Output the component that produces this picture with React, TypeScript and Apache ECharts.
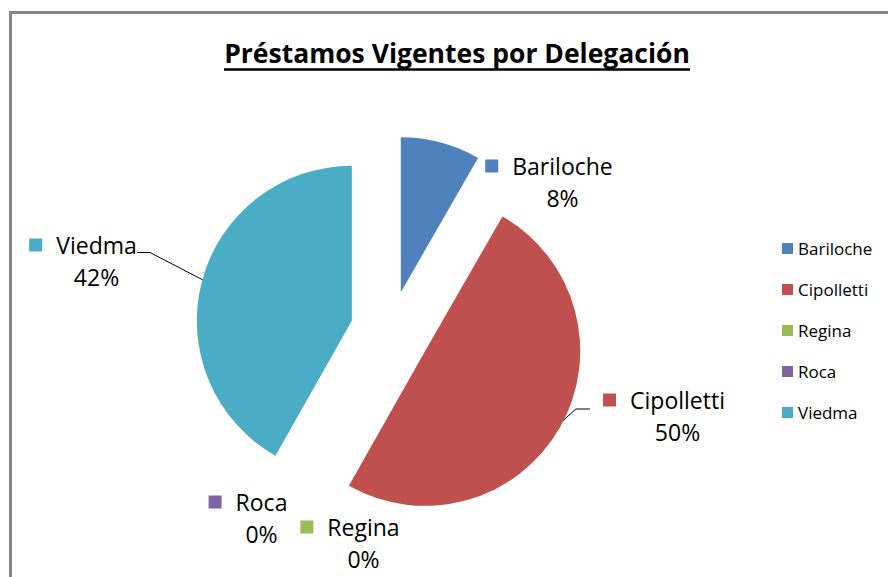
import React, { useEffect, useRef } from "react";
import * as echarts from "echarts";

const categories = ["Bariloche", "Cipolletti", "Regina", "Roca", "Viedma"];
const values = [8.3, 49.9, 0, 0, 41.8];
const colors = ["#4F81BD", "#C0504D", "#9BBB59", "#8064A2", "#4BACC6"];
const titleText = "Préstamos Vigentes por Delegación";

export default function App() {
  const ref = useRef<HTMLDivElement>(null);

  useEffect(() => {
    if (!ref.current) return;
    const chart = echarts.init(ref.current, null, { renderer: "svg" });

    const font = "'Open Sans', 'Noto Sans', sans-serif";
    const cx = 390.5;
    const cy = 331;
    const explode = 40;
    const radius = 155;

    // label layout (centre of block)
    const labelLayoutMap: Record<string, any> = {
      Bariloche: { x: 549, y: 182, line: null },
      Cipolletti: { x: 664, y: 416, line: [[558, 425], [576, 409], [590, 409]] },
      Regina: { x: 350, y: 543, line: null },
      Roca: { x: 248, y: 518, line: null },
      Viedma: { x: 83, y: 261, line: [[203, 280], [150, 252.5], [137, 252.5]] },
    };

    const total = values.reduce((a, b) => a + b, 0);
    let acc = 0;
    const mids = values.map((v) => {
      const m = ((acc + v / 2) / total) * 2 * Math.PI;
      acc += v;
      return m;
    });

    const series = categories.map((cat, si) => ({
      type: "pie",
      name: cat,
      silent: true,
      center: [cx + explode * Math.sin(mids[si]), cy - explode * Math.cos(mids[si])],
      radius,
      startAngle: 90,
      clockwise: true,
      percentPrecision: 0,
      avoidLabelOverlap: false,
      emphasis: { disabled: true },
      labelLine: { show: false, lineStyle: { color: "#000", width: 1 } },
      labelLayout: (params: any) => {
        const L = labelLayoutMap[categories[params.dataIndex]];
        const res: any = { x: L.x, y: L.y, align: "center", verticalAlign: "middle" };
        if (L.line) res.labelLinePoints = L.line;
        return res;
      },
      data: categories.map((name, i) => ({
        name,
        value: values[i],
        itemStyle: { color: i === si ? colors[i] : "rgba(0,0,0,0)" },
        labelLine: { show: i === si && !!labelLayoutMap[name].line },
        label: {
          show: i === si,
          position: "outside",
          formatter: (p: any) => `{sq|}{gap|}{name|${p.name}}\n{sp|}{pct|${p.percent}%}`,
          rich: {
            sq: { width: 13, height: 13, backgroundColor: colors[i] },
            gap: { width: 14 },
            name: { fontSize: 23, fontFamily: font, color: "#000", lineHeight: 32 },
            sp: { width: 27, align: "center" },
            pct: { fontSize: 23, fontFamily: font, color: "#000", lineHeight: 32, align: "center" },
          },
        },
      })),
    }));

    chart.setOption({
      animation: false,
      backgroundColor: "#fff",
      graphic: [
        {
          type: "rect",
          shape: { x: 10.5, y: 12.5, width: 1000, height: 1000 },
          style: { fill: "none", stroke: "#878787", lineWidth: 3 },
          silent: true,
        },
        {
          type: "text",
          x: 457,
          y: 53,
          style: {
            text: titleText,
            fontSize: 26.5,
            fontWeight: "bold",
            fontFamily: font,
            fill: "#000",
            align: "center",
            verticalAlign: "middle",
          },
        },
        {
          type: "line",
          shape: { x1: 224, y1: 69.5, x2: 690, y2: 69.5 },
          style: { stroke: "#000", lineWidth: 2.5 },
        },
      ],
      legend: {
        orient: "vertical",
        left: 777,
        top: 235,
        itemWidth: 11,
        itemHeight: 11,
        itemGap: 24,
        icon: "rect",
        selectedMode: false,
        textStyle: { fontSize: 17, fontFamily: font, color: "#000", lineHeight: 17 },
        data: categories.map((name, i) => ({ name, itemStyle: { color: colors[i] } })),
      },
      series,
    });

    return () => chart.dispose();
  }, []);

  return (
    <div
      ref={ref}
      style={{ position: "fixed", left: 0, top: 0, width: 888, height: 577, background: "#fff" }}
    />
  );
}
